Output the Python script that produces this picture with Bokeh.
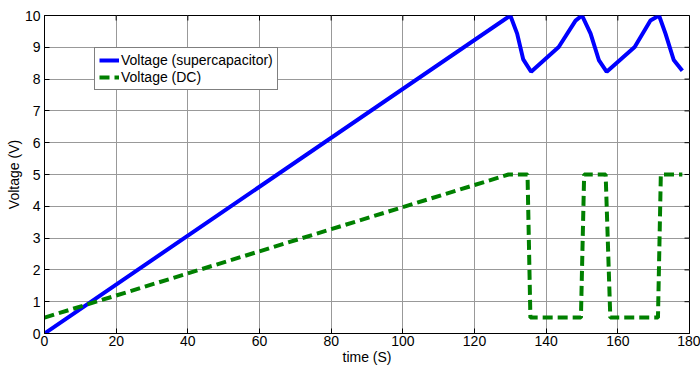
from bokeh.plotting import figure
from bokeh.models import Range1d, Legend, LegendItem, FixedTicker
from bokeh.embed import file_html
from bokeh.resources import INLINE
import math

# data
supercap_t = [0, 130, 131.9, 133.6, 135.8, 143.5, 148.2, 150, 152.4, 154.7, 156.9,
              164.7, 169.1, 171.5, 173.3, 175.6, 178]
supercap_v = [0, 10, 9.43, 8.62, 8.23, 9.01, 9.84, 10, 9.43, 8.6, 8.23,
              9.01, 9.84, 10, 9.43, 8.6, 8.26]
dc_t = [0, 129.5, 134.8, 135.6, 149.7, 150.6, 156.6, 157.9, 171.2, 172, 178]
dc_v = [0.5, 5, 5, 0.5, 0.5, 5, 5, 0.5, 0.5, 5, 5]
x_ticks = [0, 20, 40, 60, 80, 100, 120, 140, 160, 180]
y_ticks = [0, 1, 2, 3, 4, 5, 6, 7, 8, 9, 10]
series_names = ["Voltage (supercapacitor)", "Voltage (DC)"]
x_label = "time (S)"
y_label = "Voltage (V)"
x_min, x_max = 0, 180
y_min, y_max = 0, 10

FONT = "Liberation Sans"

p = figure(width=700, height=367, output_backend="svg", toolbar_location=None,
           x_range=Range1d(x_min, x_max), y_range=Range1d(y_min, y_max),
           min_border_left=44, min_border_right=11, min_border_top=15, min_border_bottom=32)
p.background_fill_color = "white"
p.border_fill_color = "white"
p.outline_line_color = "black"
p.outline_line_width = 1

for ax in (p.xaxis[0], p.yaxis[0]):
    ax.major_tick_in = 5
    ax.major_tick_out = 0
    ax.minor_tick_in = 0
    ax.minor_tick_out = 0
    ax.axis_line_color = "black"
    ax.major_tick_line_color = "black"
    ax.major_label_text_font = FONT
    ax.major_label_text_font_size = "14px"
    ax.major_label_text_color = "black"
    ax.axis_label_text_font = FONT
    ax.axis_label_text_font_size = "14px"
    ax.axis_label_text_font_style = "normal"
    ax.axis_label_text_color = "black"

p.xaxis[0].ticker = FixedTicker(ticks=x_ticks)
p.yaxis[0].ticker = FixedTicker(ticks=y_ticks)
p.xaxis[0].axis_label = x_label
p.yaxis[0].axis_label = y_label
p.xaxis[0].major_label_standoff = 2
p.xaxis[0].axis_label_standoff = 0
p.yaxis[0].major_label_standoff = 4
p.yaxis[0].axis_label_standoff = 0

p.xgrid.ticker = FixedTicker(ticks=x_ticks)
p.ygrid.ticker = FixedTicker(ticks=y_ticks)
for g in (p.xgrid[0], p.ygrid[0]):
    g.grid_line_color = "#999999"
    g.grid_line_width = 1

# inward ticks on the right and top edges of the box
p.scatter([x_max] * len(y_ticks), y_ticks, marker="dash", size=10,
          line_color="black", line_width=1)
p.scatter(x_ticks, [y_max] * len(x_ticks), marker="dash", size=10, angle=math.pi / 2,
          line_color="black", line_width=1)

r1 = p.line(supercap_t, supercap_v, line_color="#0000ff", line_width=4)
r2 = p.line(dc_t, dc_v, line_color="#008000", line_width=4, line_dash="10 5")

legend = Legend(items=[LegendItem(label=series_names[0], renderers=[r1]),
                       LegendItem(label=series_names[1], renderers=[r2])],
                location=(50, 243))
legend.border_line_color = "black"
legend.border_line_width = 1
legend.background_fill_alpha = 1
legend.label_text_font = FONT
legend.label_text_font_size = "14px"
legend.label_text_color = "black"
legend.glyph_width = 20
legend.glyph_height = 16
legend.label_height = 16
legend.label_standoff = 2
legend.spacing = 1
legend.padding = 4
legend.margin = 0
p.add_layout(legend, "center")

open("out.html", "w").write(file_html(p, INLINE))
